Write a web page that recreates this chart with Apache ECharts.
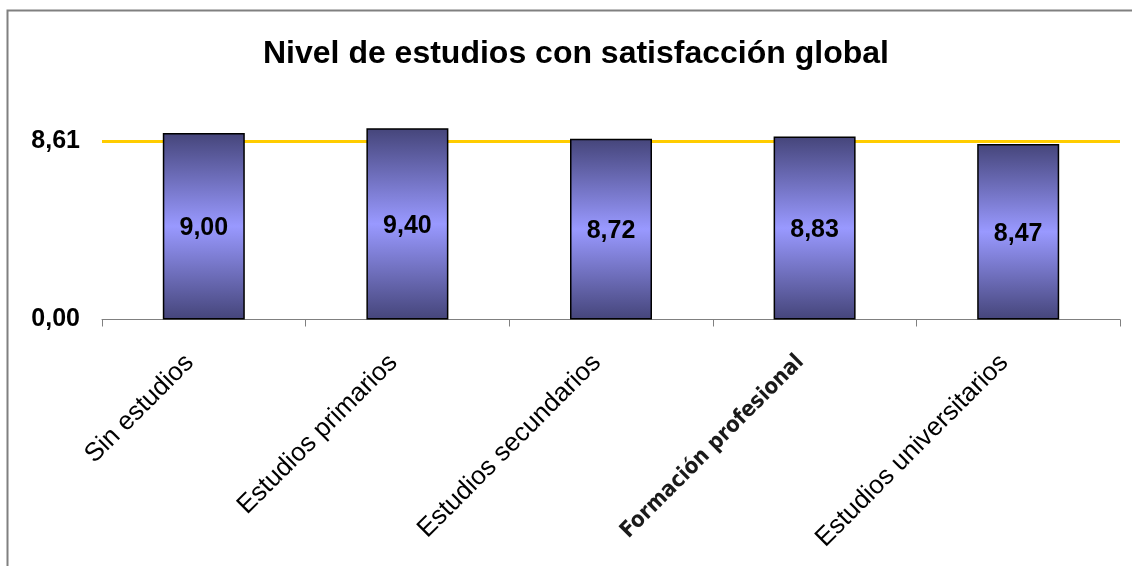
<!DOCTYPE html>
<html>
<head>
<meta charset="utf-8">
<script src="https://cdn.jsdelivr.net/npm/echarts@6/dist/echarts.min.js"></script>
<style>
html,body{margin:0;padding:0;background:#fff;}
#chart{width:1132px;height:566px;}
</style>
</head>
<body>
<div id="chart"></div>
<script>
const titleText = 'Nivel de estudios con satisfacción global';
const categories = ['Sin estudios', 'Estudios primarios', 'Estudios secundarios', 'Formación profesional', 'Estudios universitarios'];
const values = [9.00, 9.40, 8.72, 8.83, 8.47];
const globalValue = 8.61;
const yTickValues = [0, 8.61];
const yMax = 9.19;

const fmt = v => Number(v).toFixed(2).replace('.', ',');

const chart = echarts.init(document.getElementById('chart'), null, {renderer: 'canvas'});
chart.setOption({
  backgroundColor: '#ffffff',
  animation: false,
  title: {
    text: titleText,
    left: 258,
    top: 33,
    textStyle: {fontFamily: 'Liberation Sans, Arial, sans-serif', fontWeight: 'bold', fontSize: 32, color: '#000'}
  },
  graphic: [{
    type: 'rect',
    shape: {x: 7.5, y: 10.5, width: 1400, height: 800},
    style: {fill: null, stroke: '#808080', lineWidth: 2},
    silent: true
  }],
  grid: {left: 102, right: 12, top: 129, bottom: 246.5, containLabel: false},
  xAxis: {
    type: 'category',
    data: categories,
    boundaryGap: true,
    axisLine: {show: true, lineStyle: {color: '#808080', width: 1}},
    axisTick: {show: true, alignWithLabel: false, length: 7, lineStyle: {color: '#808080'}},
    axisLabel: {
      rotate: 45,
      interval: 0,
      margin: 25,
      padding: [0, 20, 0, 0],
      color: '#000',
      fontFamily: 'Liberation Sans, Arial, sans-serif',
      fontSize: 26,
      formatter: (v) => v === 'Formación profesional' ? '{fp|' + v + '}' : v,
      rich: {
        fp: {fontFamily: 'DejaVu Sans Condensed, sans-serif', fontWeight: 'bold', fontSize: 22, color: '#1a1a1a'}
      }
    }
  },
  yAxis: {
    type: 'value',
    min: 0,
    max: yMax,
    axisLine: {show: false},
    axisTick: {show: false},
    splitLine: {show: false},
    axisLabel: {
      customValues: yTickValues,
      margin: 22,
      color: '#000',
      fontFamily: 'Liberation Sans, Arial, sans-serif',
      fontWeight: 'bold',
      fontSize: 25,
      formatter: fmt
    }
  },
  series: [{
    type: 'bar',
    data: values,
    barWidth: 82,
    z: 3,
    clip: true,
    itemStyle: {
      borderColor: '#000',
      borderWidth: 1.5,
      color: {
        type: 'linear', x: 0, y: 0, x2: 0, y2: 1,
        colorStops: [
          {offset: 0, color: '#45457a'},
          {offset: 0.5, color: '#9999ff'},
          {offset: 1, color: '#45457a'}
        ]
      }
    },
    label: {
      show: true,
      position: 'inside',
      offset: [0, 2],
      color: '#000',
      fontFamily: 'Liberation Sans, Arial, sans-serif',
      fontWeight: 'bold',
      fontSize: 25,
      formatter: p => fmt(p.value)
    },
    markLine: {
      z: 1,
      silent: true,
      symbol: ['none', 'none'],
      label: {show: false},
      lineStyle: {color: '#ffcc00', width: 3, type: 'solid'},
      data: [{yAxis: globalValue}]
    }
  }]
});
</script>
</body>
</html>
